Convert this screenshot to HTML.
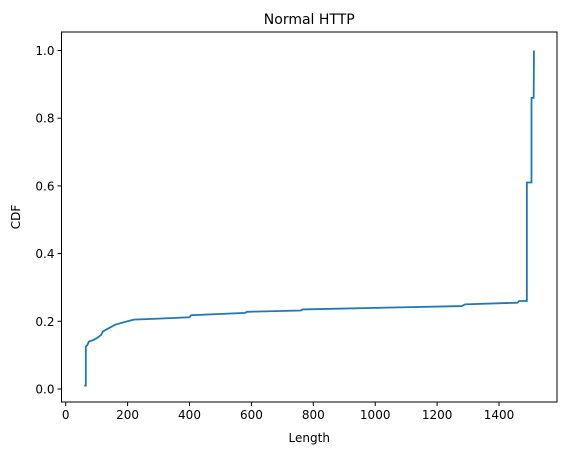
<!DOCTYPE html>
<html><head><meta charset="utf-8"><style>
body{margin:0;background:#fff;font-family:"Liberation Sans","DejaVu Sans",sans-serif;}
svg text{font-family:"DejaVu Sans","Liberation Sans",sans-serif;fill:#000;}
</style></head><body>
<svg id="chart" width="567" height="455"></svg>
<script>
const xs=[60,65,65,70,75,90,100,115,120,140,160,200,220,300,400,405,580,585,760,765,1280,1290,1460,1465,1490,1490,1505,1505,1510,1512,1513];
const ys=[0.01,0.01,0.125,0.13,0.14,0.145,0.15,0.16,0.17,0.18,0.19,0.20,0.205,0.208,0.212,0.218,0.225,0.228,0.232,0.235,0.245,0.25,0.255,0.26,0.26,0.61,0.61,0.86,0.86,0.86,1.0];
const xTicks=[0,200,400,600,800,1000,1200,1400];
const yTicks=[0.0,0.2,0.4,0.6,0.8,1.0];
const L=61.5,R=557,T=32,B=402;
const X=v=>65.7+v*0.3095, Y=v=>389-v*338.5;
const svg=document.getElementById('chart');const NS='http://www.w3.org/2000/svg';
function mk(t,a,p){const e=document.createElementNS(NS,t);for(const k in a)e.setAttribute(k,a[k]);(p||svg).appendChild(e);return e;}
const frame=mk('rect',{x:L,y:T,width:R-L,height:B-T,fill:'none',stroke:'#000','stroke-width':1});


xTicks.forEach(v=>{const g=mk('g',{});


mk('line',{x1:X(v),x2:X(v),y1:B,y2:B+4,stroke:'#000'},g);
const t=mk('text',{x:X(v),y:B+17,'text-anchor':'middle','font-size':12},g);t.textContent=v;});
yTicks.forEach(v=>{const g=mk('g',{});


mk('line',{x1:L-4,x2:L,y1:Y(v),y2:Y(v),stroke:'#000'},g);
const t=mk('text',{x:L-7,y:Y(v)+4.5,'text-anchor':'end','font-size':12},g);t.textContent=v.toFixed(1);});
const line=mk('polyline',{points:xs.map((x,i)=>X(x)+','+Y(ys[i])).join(' '),fill:'none',stroke:'#1f77b4','stroke-width':1.8});


const ti=mk('text',{x:(L+R)/2,y:24,'text-anchor':'middle','font-size':14});ti.textContent='Normal HTTP';


const xl=mk('text',{x:(L+R)/2,y:442,'text-anchor':'middle','font-size':12});xl.textContent='Length';


const yl=mk('text',{x:20,y:(T+B)/2,'text-anchor':'middle','font-size':12,transform:'rotate(-90 20 '+((T+B)/2)+')'});yl.textContent='CDF';


</script>
</body></html>
